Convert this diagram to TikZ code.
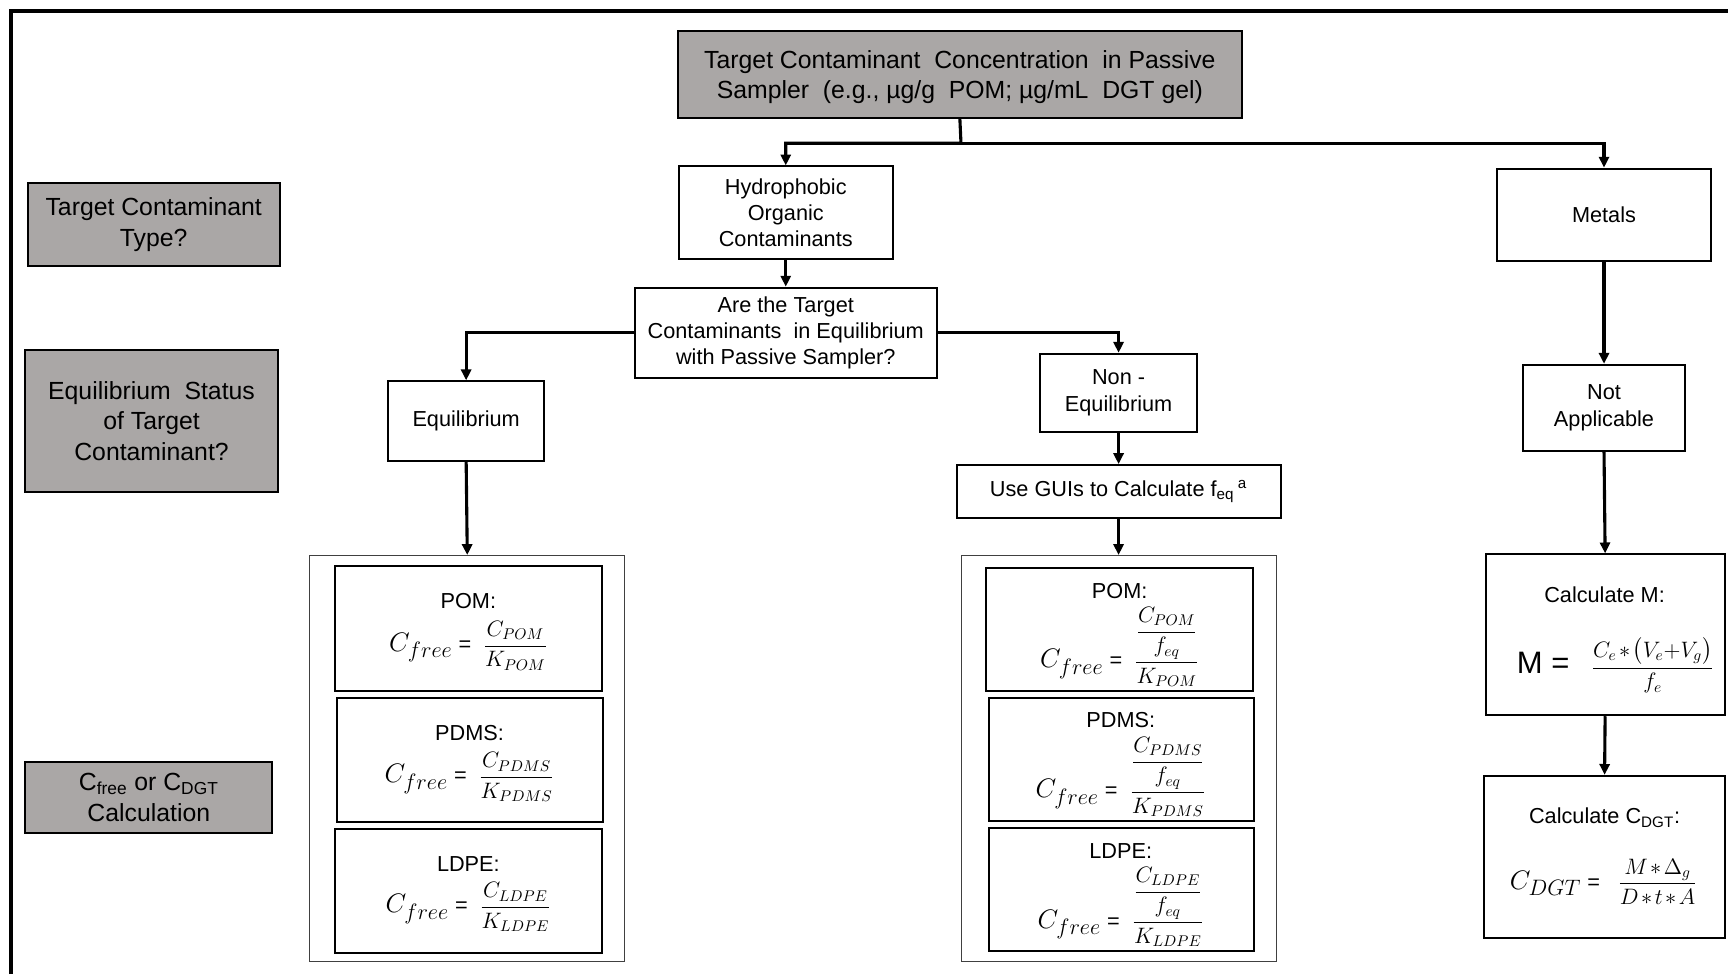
\documentclass[tikz,border=0pt]{standalone}
\usepackage{amsmath}
\usepackage{fontspec}
\setmainfont{Liberation Sans}
\usetikzlibrary{arrows.meta}
\definecolor{boxgray}{RGB}{170,167,166}
\newcommand\myBigC[1]{{\fontsize{19}{20}\selectfont$C_{#1}$}}
\newcommand\myAst{\mskip2mu{\ast}\mskip2mu}
\begin{document}
\begin{tikzpicture}[x=0.025cm,y=-0.025cm,
  wh/.style 2 args={minimum width=#1*0.025cm, minimum height=#2*0.025cm},
  gbox/.style={draw=black, line width=1.3pt, fill=boxgray, align=center, inner sep=0pt, font=\fontsize{16}{19.9}\selectfont},
  wbox/.style={draw=black, line width=1.3pt, fill=white, align=center, inner sep=0pt, font=\fontsize{14}{17}\selectfont},
  cont/.style={draw=black!75, line width=0.6pt, fill=white, inner sep=0pt},
  txt/.style={inner sep=0pt, align=center, font=\fontsize{14}{17}\selectfont},
  conn/.style={line width=2pt, -{Triangle[length=7pt,width=6.5pt]}},
]
\useasboundingbox (0,0) rectangle (1568,884);
\fill[white] (0,0) rectangle (1568,884);
\draw[line width=2.2pt, line join=miter] (10,884) -- (10,10) -- (1568,10);

% left row labels
\node[gbox, wh={229}{75}] (g1) at (139.5,203.5) {Target Contaminant\\Type?};
\node[gbox, wh={229}{128}] (g2) at (137.5,382) {Equilibrium\ \ Status\\of Target\\Contaminant?};
\node[gbox, wh={224}{65}] (g3) at (135,723.5) {C\textsubscript{free} or C\textsubscript{DGT}\\Calculation};

% flow
\node[gbox, wh={512}{79}] (top) at (871,67.5) {};
\node[txt, font=\fontsize{16}{0.7cm}\selectfont] (toptxt) at (871,70) {Target Contaminant\ \ Concentration\ \ in Passive\\Sampler\ \ (e.g., µg/g\ \ POM; µg/mL\ \ DGT gel)};
\node[wbox, wh={194}{84}] (hoc) at (713,193) {Hydrophobic\\Organic\\Contaminants};
\node[wbox, wh={195}{84}] (metals) at (1455.5,195) {Metals};
\node[wbox, wh={274}{82}] (q) at (713,302) {Are the Target\\Contaminants\ \ in Equilibrium\\with Passive Sampler?};
\node[wbox, wh={142}{72}] (eq) at (423,382) {Equilibrium};
\node[wbox, wh={142}{71}] (neq) at (1015,356.5) {Non -\\Equilibrium};
\node[wbox, wh={294}{48}] (gui) at (1015,446) {Use GUIs to Calculate f\textsubscript{eq}\,\textsuperscript{a}};
\node[wbox, wh={147}{78}] (na) at (1455.5,370) {Not\\Applicable};
\node[wbox, wh={217}{146}] (calcM) at (1456.5,576) {};
\node[wbox, wh={218}{147}] (calcD) at (1456,777.5) {};

% containers
\node[cont, wh={286}{368}] (contL) at (424,688) {};
\node[cont, wh={286}{368}] (contM) at (1015,688) {};

% equilibrium formulas
\node[wbox, wh={242}{113}] (lpom) at (425,570.5) {};
\node[wbox, wh={241}{113}] (lpdms) at (426.5,689.5) {};
\node[wbox, wh={242}{113}] (lldpe) at (425,808.5) {};
\node[txt] (lpomt) at (425,545) {POM:};
\node[txt] (lpdmst) at (426,665) {PDMS:};
\node[txt] (lldpet) at (425,784) {LDPE:};
\node[txt] (lpomf) at (425,586) {\myBigC{free} = \ $\displaystyle\frac{C_{POM}}{K_{POM}}$};
\node[txt] (lpdmsf) at (426,705) {\myBigC{free} = \ $\displaystyle\frac{C_{PDMS}}{K_{PDMS}}$};
\node[txt] (lldpef) at (425,823) {\myBigC{free} = \ $\displaystyle\frac{C_{LDPE}}{K_{LDPE}}$};

% non-equilibrium formulas
\node[wbox, wh={242}{112}] (mpom) at (1016,571) {};
\node[wbox, wh={241}{112}] (mpdms) at (1017.5,689) {};
\node[wbox, wh={241}{112}] (mldpe) at (1017.5,807) {};
\node[txt] (mpomt) at (1016,536) {POM:};
\node[txt] (mpdmst) at (1017,653) {PDMS:};
\node[txt] (mldpet) at (1017,772) {LDPE:};
\node[txt] (mpomf) at (1016,587) {\myBigC{free} = \ $\displaystyle\frac{\dfrac{C_{POM}}{f_{eq}}}{K_{POM}}$};
\node[txt] (mpdmsf) at (1017,705) {\myBigC{free} = \ $\displaystyle\frac{\dfrac{C_{PDMS}}{f_{eq}}}{K_{PDMS}}$};
\node[txt] (mldpef) at (1017,823) {\myBigC{free} = \ $\displaystyle\frac{\dfrac{C_{LDPE}}{f_{eq}}}{K_{LDPE}}$};

% metals formulas
\node[txt] (calcMt) at (1456,540) {Calculate M:};
\node[txt] (calcMf) at (1466,604) {{\fontsize{20}{22}\selectfont M =}\hspace{14pt}$\displaystyle\frac{C_e\myAst\bigl(V_e{+}V_g\bigr)}{f_e}$};
\node[txt] (calcDt) at (1456,742) {Calculate C\textsubscript{DGT}:};
\node[txt] (calcDf) at (1455,800) {\myBigC{DGT} = \ \ $\displaystyle\frac{M\myAst\Delta_g}{D\myAst t\myAst A}$};

% connectors
\coordinate (j1) at (872,130);
\draw[conn] (top.south) -- (j1) -| (hoc.north);
\draw[conn] (j1) -| (metals.north);
\draw[conn] (hoc.south) -- (q.north);
\draw[conn] (q.west) -| (eq.north);
\draw[conn] (q.east) -| (neq.north);
\draw[conn] (neq.south) -- (gui.north);
\draw[conn] (gui.south) -- (contM.north);
\draw[conn] (eq.south) -- (contL.north);
\draw[conn] (metals.south) -- (na.north);
\draw[conn] (na.south) -- (calcM.north);
\draw[conn] (calcM.south) -- (calcD.north);
\end{tikzpicture}
\end{document}
